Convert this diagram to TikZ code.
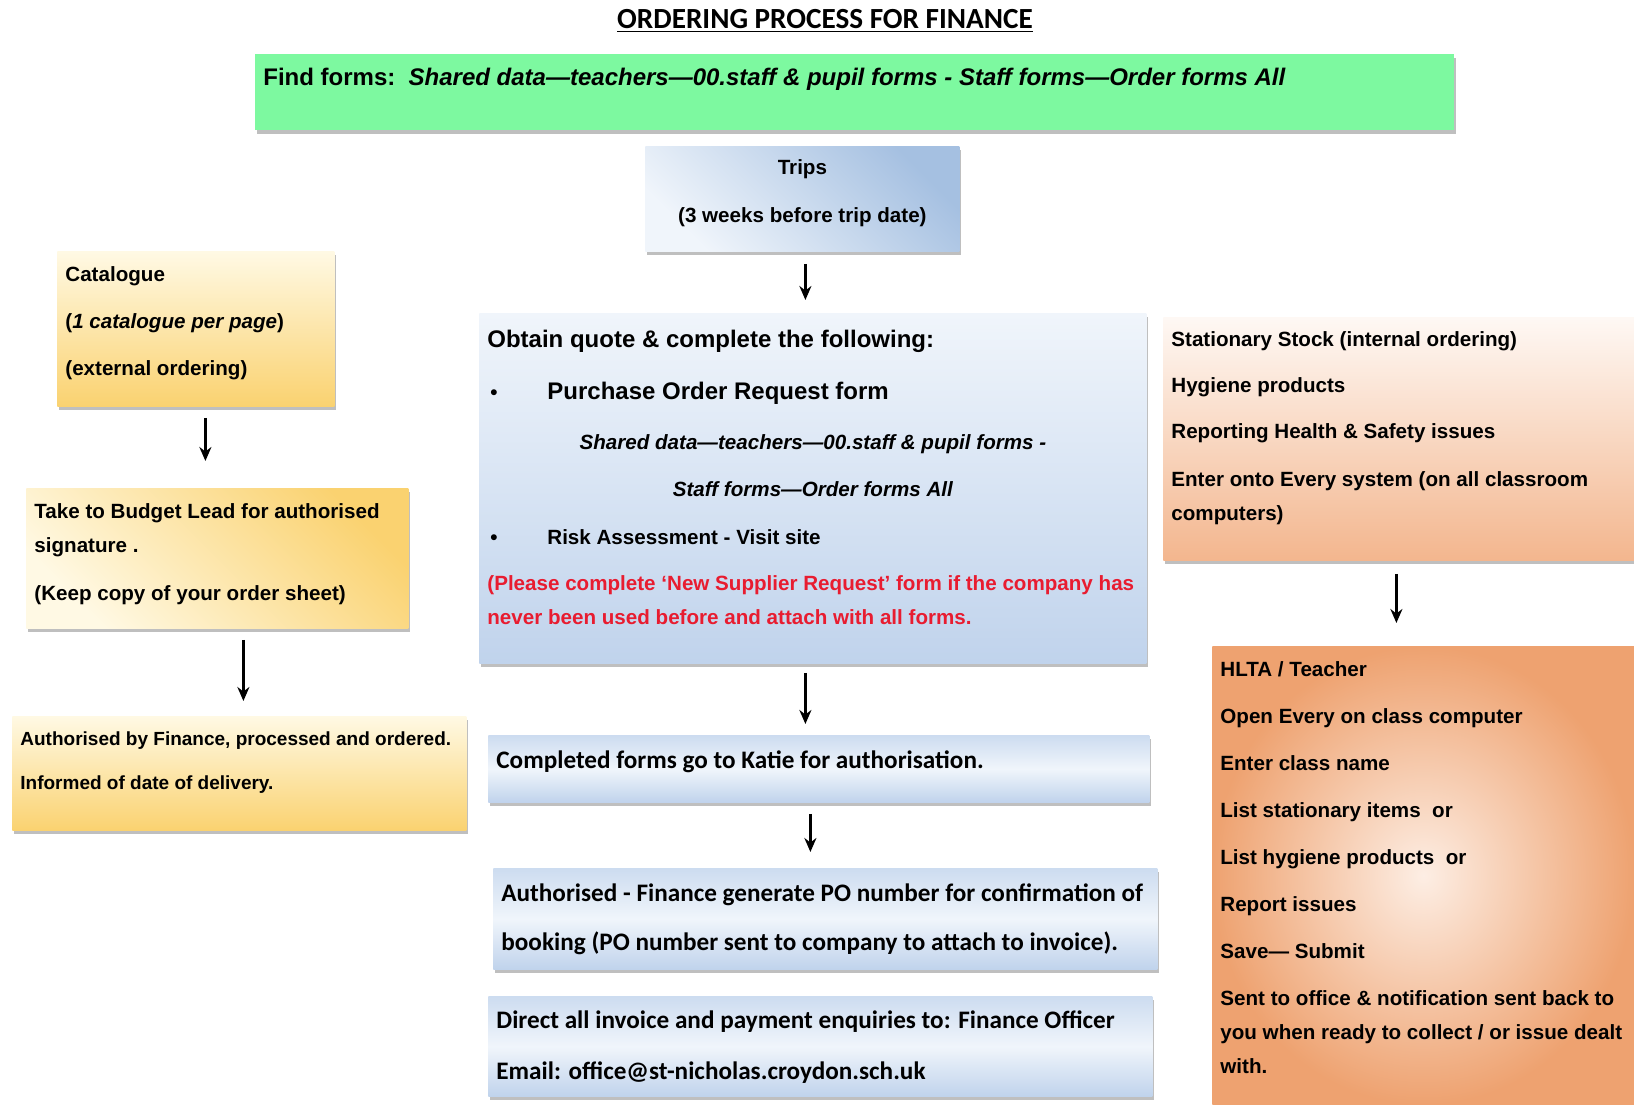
\documentclass[tikz,border=0pt]{standalone}
\usepackage{fontspec}
\setmainfont{Liberation Sans}
\newfontfamily\calibri{Carlito}
\usepackage{tikz}
\usetikzlibrary{arrows.meta, calc, shadows, positioning}

\definecolor{formgreen}{RGB}{125,249,160}
\definecolor{paleblue}{RGB}{240,245,251}
\definecolor{midblue}{RGB}{192,211,236}
\definecolor{tripblue}{RGB}{165,192,225}
\definecolor{cream}{RGB}{255,249,228}
\definecolor{gold}{RGB}{250,210,112}
\definecolor{peachlight}{RGB}{253,238,228}
\definecolor{peach}{RGB}{243,182,142}
\definecolor{hltaorange}{RGB}{238,162,112}
\definecolor{alertred}{RGB}{232,28,48}

\newcommand{\boxtext}[4]{\parbox[c][#2][t]{#1}{\raggedright\vspace*{#3}#4}}
\newcommand{\boxfont}{\fontsize{10.3}{17}\selectfont\bfseries}
\newcommand{\bigfont}{\fontsize{12}{17}\selectfont}
\newcommand{\calfont}{\calibri\fontsize{12.6}{17}\selectfont}
\newcommand{\itemdot}{\hspace*{1.5pt}\makebox[28.5pt][l]{\textbullet}}

\begin{document}
\begin{tikzpicture}[x=0.5pt, y=-0.5pt,
  flowbox/.style={anchor=north west, inner xsep=4pt, inner ysep=0pt, font=\boxfont,
    drop shadow={shadow xshift=1pt, shadow yshift=-2pt, fill=black!50}},
  bluebox/.style={flowbox, top color=paleblue, bottom color=midblue},
  flatblue/.style={flowbox, top color=midblue!80, bottom color=midblue, middle color=paleblue},
  goldbox/.style={flowbox, top color=cream, bottom color=gold},
  peachbox/.style={flowbox, top color=peachlight!40!white, bottom color=peach},
  flowarrow/.style={-{Stealth[length=7pt,width=6pt]}, line width=1.2pt}]
  \useasboundingbox (0,0) rectangle (1634,1104);

  % Title and where to find the forms
  \node[anchor=base, font=\calibri\bfseries\fontsize{14.6}{16}\selectfont] (title) at (825,28) {\underline{ORDERING PROCESS FOR FINANCE}};
  \node[flowbox, fill=formgreen] (find) at (255,54) {\boxtext{591.5pt}{38pt}{6.7pt}{\bigfont Find forms:\ \ \textit{Shared data---teachers---00.staff \& pupil forms - Staff forms---Order forms All}}};

  % Left column: catalogue
  \node[goldbox] (catalogue) at (57,251) {\boxtext{130.5pt}{77.5pt}{7.5pt}{Catalogue\\[6.5pt](\textit{1 catalogue per page})\\[6.5pt](external ordering)}};
  \node[flowbox, top color=gold, bottom color=cream, shading angle=-45] (budget) at (26,488) {\boxtext{183pt}{70pt}{7.5pt}{Take to Budget Lead for authorised\\ signature .\\[7pt](Keep copy of your order sheet)}};
  \node[goldbox] (ordered) at (12,716) {\boxtext{219pt}{57pt}{7.5pt}{\fontsize{9.5}{17}\selectfont\mbox{Authorised by Finance, processed and ordered.}\\[5pt]Informed of date of delivery.}};

  % Middle column: trips
  \node[flowbox, top color=tripblue, bottom color=paleblue, shading angle=-45] (trips) at (645,146) {\boxtext{149pt}{52.5pt}{6.5pt}{\centering Trips\\[7pt](3 weeks before trip date)}};
  \node[bluebox] (obtain) at (479,313) {\boxtext{325.5pt}{175pt}{8.2pt}{{\bigfont Obtain quote \& complete the following:}\\[9pt]
    \itemdot{\bigfont Purchase Order Request form}\\[8pt]
    \makebox[\linewidth]{\itshape Shared data---teachers---00.staff \& pupil forms -}\\[6.5pt]
    \makebox[\linewidth]{\itshape Staff forms---Order forms All}\\[7pt]
    \itemdot Risk Assessment - Visit site\\[6pt]
    {\color{alertred}(Please complete `New Supplier Request' form if the company has\\ never been used before and attach with all forms.}}};
  \node[flatblue] (katie) at (488,735) {\boxtext{322.5pt}{33.5pt}{7.5pt}{\calfont Completed forms go to Katie for authorisation.}};
  \node[flatblue] (ponumber) at (493,868) {\boxtext{324pt}{50.5pt}{7.5pt}{\calfont Authorised - Finance generate PO number for confirmation of\\[7.5pt]booking (PO number sent to company to attach to invoice).}};
  \node[flatblue] (enquiries) at (488,996) {\boxtext{324pt}{50pt}{7pt}{\calfont Direct all invoice and payment enquiries to: Finance Officer\\[8.5pt]Email: office@st-nicholas.croydon.sch.uk}};

  % Right column: stationary and hygiene
  \node[peachbox] (stock) at (1163,317) {\boxtext{227.5pt}{121.5pt}{7pt}{Stationary Stock (internal ordering)\\[6pt]Hygiene products\\[6pt]Reporting Health \& Safety issues\\[7pt]Enter onto Every system (on all classroom\\ computers)}};
  \node[flowbox, inner color=peachlight, outer color=hltaorange] (hlta) at (1212,646) {\boxtext{203pt}{229pt}{7.5pt}{HLTA / Teacher\\[6.5pt]Open Every on class computer\\[6.5pt]Enter class name\\[6.5pt]List stationary items\ \ or\\[6.5pt]List hygiene products\ \ or\\[6.5pt]Report issues\\[6.5pt]Save--- Submit\\[6.5pt]Sent to office \& notification sent back to\\ you when ready to collect / or issue dealt\\ with.}};

  % Arrows
  \draw[flowarrow, shorten <=5.5pt, shorten >=13.5pt] ($(catalogue.south)+(4.75pt,0)$) -- ($(catalogue.south |- budget.north)+(4.75pt,0)$);
  \draw[flowarrow, shorten <=5.5pt, shorten >=7.5pt] ($(budget.south)+(13pt,0)$) -- ($(budget.south |- ordered.north)+(13pt,0)$);
  \draw[flowarrow, shorten <=6pt, shorten >=6.5pt] ($(trips.south)+(1.5pt,0)$) -- ($(trips.south |- obtain.north)+(1.5pt,0)$);
  \draw[flowarrow, shorten <=4.5pt, shorten >=5.5pt] ($(obtain.south)+(-3.75pt,0)$) -- ($(obtain.south |- katie.north)+(-3.75pt,0)$);
  \draw[flowarrow, shorten <=5.5pt, shorten >=8pt] ($(katie.south)+(-4.25pt,0)$) -- ($(katie.south |- ponumber.north)+(-4.25pt,0)$);
  \draw[flowarrow, shorten <=6.5pt, shorten >=11.5pt] ($(stock.south)+(-1.25pt,0)$) -- ($(stock.south |- hlta.north)+(-1.25pt,0)$);
\end{tikzpicture}
\end{document}
